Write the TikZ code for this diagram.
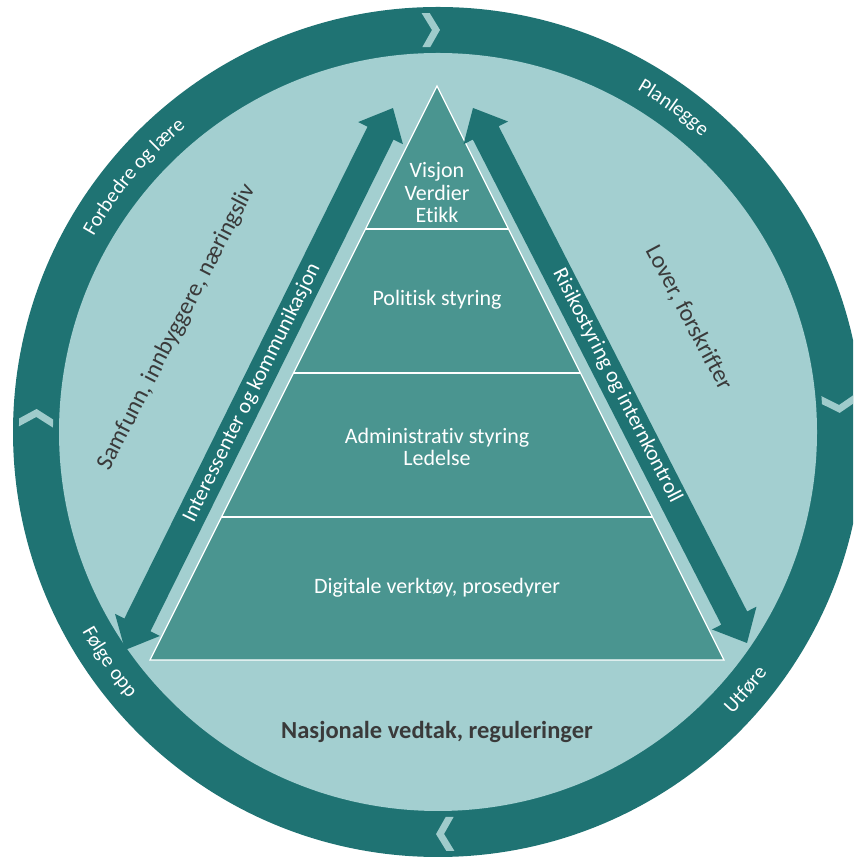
\documentclass[tikz,border=0pt]{standalone}
\usepackage{fontspec}
\setmainfont{Carlito}[Ligatures={NoCommon}]
\usetikzlibrary{decorations.text,calc}
\definecolor{ringdark}{HTML}{1F7373}
\definecolor{ringlight}{HTML}{A3CFD0}
\definecolor{pyr}{HTML}{4A9590}
\definecolor{txtdark}{HTML}{3A3A3A}
\definecolor{chev}{HTML}{9FCBCB}
\tikzset{
  pyrtext/.style={text=white, align=center, inner sep=0pt, font=\fontsize{22}{22.5}\selectfont},
  sidetext/.style={text=txtdark, inner sep=0pt, font=\fontsize{24}{26}\selectfont},
  arrowtext/.style={text=white, inner sep=0pt, font=\fontsize{21.5}{22}\selectfont},
  bigarrow/.style={fill=ringdark},
  chevron/.style={fill=chev},
  layerline/.style={draw=white, line width=1.3pt}
}
\newcommand{\ringfmt}{\color{white}\fontsize{20.5}{22}\selectfont}
\begin{document}
\begin{tikzpicture}[x=1pt,y=1pt]
\useasboundingbox (0,0) rectangle (853,858);
\clip (0,0) rectangle (853,858);
\fill[white] (0,0) rectangle (853,858);
\coordinate (C) at (438,426);
% ring
\fill[ringdark] (C) circle[radius=425];
\fill[ringlight] (C) circle[radius=379];
% chevrons (clockwise)
\foreach \a in {91,4,178,271}{
  \begin{scope}[shift={(C)}, rotate=\a]
    \fill[chevron] (419,9) -- (419,1) -- (402,-9) -- (385,1) -- (385,9) -- (402,-1) -- cycle;
  \end{scope}
}
% ring labels
\path[decorate, decoration={text along path, text align=center,
  text={|\ringfmt|Planlegge}}]
  ($(C)+(94:396)$) arc[start angle=94, end angle=14, radius=396];
\path[decorate, decoration={text along path, text align=center,
  text={|\ringfmt|Forbedre og lære}}]
  ($(C)+(180:396)$) arc[start angle=180, end angle=100, radius=396];
\path[decorate, decoration={text along path, text align=center,
  text={|\ringfmt|Utføre}}]
  ($(C)+(-80:408)$) arc[start angle=-80, end angle=0, radius=408];
\path[decorate, decoration={text along path, text align=center,
  text={|\ringfmt|Følge opp}}]
  ($(C)+(175:408)$) arc[start angle=175, end angle=255, radius=408];
% pyramid
\coordinate (apex) at (437,772);
\coordinate (bl) at (150,198);
\coordinate (br) at (724,198);
\fill[pyr] (apex) -- (bl) -- (br) -- cycle;
\draw[layerline] (apex) -- (bl) -- (br) -- cycle;
\draw[layerline] ($(apex)!0.249!(bl)$) -- ($(apex)!0.249!(br)$);
\draw[layerline] ($(apex)!0.5!(bl)$) -- ($(apex)!0.5!(br)$);
\draw[layerline] ($(apex)!0.751!(bl)$) -- ($(apex)!0.751!(br)$);
% big double arrows
\begin{scope}[shift={(125,208)}, rotate=63.69]
  \fill[bigarrow] (0,0) -- (28,25) -- (28,14.5) -- (576.6,14.5) -- (576.6,25) -- (604.6,0)
    -- (576.6,-25) -- (576.6,-14.5) -- (28,-14.5) -- (28,-25) -- cycle;
\end{scope}
\begin{scope}[shift={(473,750)}, rotate=-62.88]
  \fill[bigarrow] (0,0) -- (28,25) -- (28,14.5) -- (573.1,14.5) -- (573.1,25) -- (601.1,0)
    -- (573.1,-25) -- (573.1,-14.5) -- (28,-14.5) -- (28,-25) -- cycle;
\end{scope}
% texts
\node[pyrtext] (visjon) at (437,665) {Visjon\\Verdier\\Etikk};
\node[pyrtext] (politisk) at (437,558) {Politisk styring};
\node[pyrtext] (admin) at (437,411) {Administrativ styring\\Ledelse};
\node[pyrtext] (digitale) at (437,270) {Digitale verktøy, prosedyrer};
\node[sidetext, font=\fontsize{24.5}{26}\selectfont\bfseries] (nasjonale) at (437,126) {Nasjonale vedtak, reguleringer};
\node[sidetext, rotate=62.7] (samfunn) at (177,531) {Samfunn, innbyggere, næringsliv};
\node[sidetext, rotate=-62] (lover) at (689,540) {Lover, forskrifter};
\node[arrowtext, rotate=63.69] (interessenter) at (252,465) {Interessenter og kommunikasjon};
\node[arrowtext, rotate=-62.88] (risiko) at (617,472) {Risikostyring og internkontroll};
\end{tikzpicture}
\end{document}
